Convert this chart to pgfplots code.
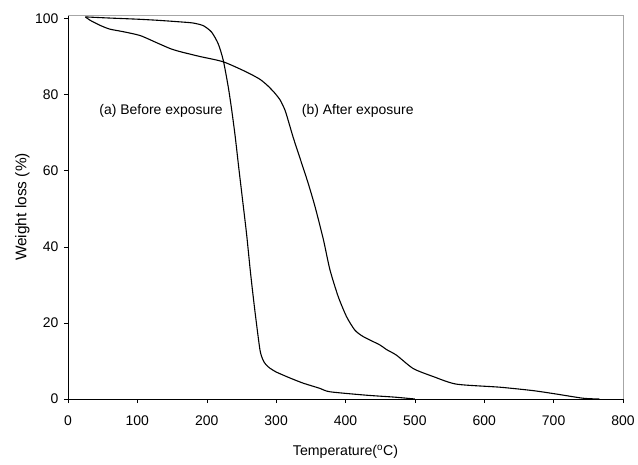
\documentclass[border=0pt]{standalone}
\usepackage{fontspec}
\setmainfont{Liberation Sans}
\usepackage{pgfplots}
\pgfplotsset{compat=1.18}

\pgfplotstableread{
T W
25 100.4
60 100.1
100 99.8
130 99.5
161 99.1
180 98.8
195 98.1
207 96.4
216.6 93.3
223.8 89.0
231 82.0
236 75.9
241 69.0
246 61.0
251.7 52.2
257.5 43.2
263.3 32.8
269.5 23.0
276.7 12.9
281 10.3
285 9.1
291 8.1
300 7.1
315 5.9
327 5.0
340 4.1
363 2.8
377.5 1.9
430 1.0
470 0.5
500 0
}\before

\pgfplotstableread{
T W
25 100.4
32 99.5
46 98.2
60 97.2
80 96.5
104 95.5
128 93.6
147 92.1
161 91.3
190 90.0
223.8 88.6
257.5 85.9
276.7 84.0
288 82.3
298 80.4
306 78.5
313 75.8
319 72.2
325 68.5
336.7 62.0
346 56.8
356 50.6
368 42.0
377.5 34.0
389.5 26.9
401.6 21.6
413.5 18.1
425.5 16.4
449.6 14.2
459 13.0
473.6 11.5
497.6 8.0
526.4 5.9
560 3.9
622.5 3.1
670.5 2.2
704 1.3
742.5 0.2
766 0
}\after

\begin{document}
\begin{tikzpicture}
\begin{axis}[
  scale only axis,
  width=555bp, height=384bp,
  xmin=0, xmax=800, ymin=0, ymax=100.9,
  xtick={0,100,...,800}, ytick={0,20,...,100},
  axis lines=left, axis line style={black, line width=0.6bp, -},
  tick align=outside, major tick length=4bp,
  tick style={black, line width=0.5bp},
  tick label style={font=\fontsize{14}{16}\selectfont},
  /pgf/number format/assume math mode=true,
  xticklabel style={yshift=-9bp},
  yticklabel style={xshift=-2bp},
  every axis x label/.style={at={(axis description cs:0.5,-0.138)}, anchor=center,
    font=\fontsize{14.2}{16}\selectfont},
  every axis y label/.style={at={(axis description cs:-0.082,0.5)}, anchor=center,
    rotate=90, font=\fontsize{15.5}{17}\selectfont},
  xlabel={Temperature(\textsuperscript{o}C)},
  ylabel={Weight loss (\%)},
  clip=false,
]
\addplot[black, line width=1.1bp, smooth, tension=0.4] table[x=T,y=W] {\before};
\addplot[black, line width=1.1bp, smooth, tension=0.4] table[x=T,y=W] {\after};
\draw[gray!70, line width=0.6bp] (rel axis cs:0,1) -- (rel axis cs:1,1) -- (rel axis cs:1,0);
\node[anchor=west, font=\fontsize{14}{16}\selectfont, inner sep=0pt] at (axis cs:45,75.6) {(a) Before exposure};
\node[anchor=west, font=\fontsize{14}{16}\selectfont, inner sep=0pt] at (axis cs:337,75.6) {(b) After exposure};
\useasboundingbox (rel axis cs:0,0) ++(-68bp,-66bp) rectangle ++(638bp,465bp);
\end{axis}
\end{tikzpicture}
\end{document}
